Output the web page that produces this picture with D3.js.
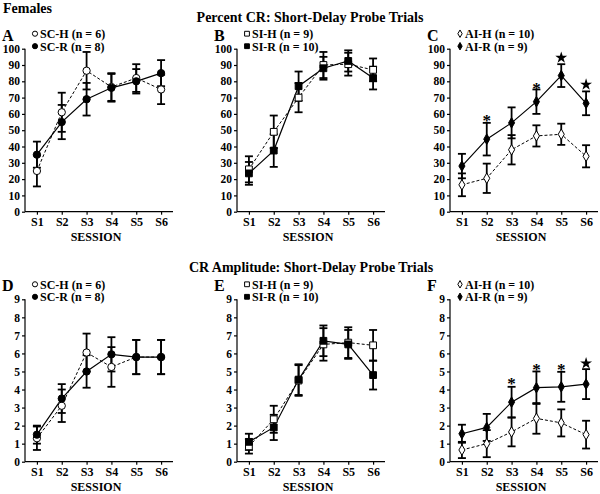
<!DOCTYPE html>
<html><head><meta charset="utf-8">
<script src="https://cdn.jsdelivr.net/npm/d3@7"></script>
<style>
body{margin:0;background:#fff;}
svg{display:block;}
text{font-family:"Liberation Serif","Times New Roman",serif;font-weight:bold;fill:#000;}
</style></head><body>
<script>
const sessions = ["S1","S2","S3","S4","S5","S6"];
const pctTicks = [0,10,20,30,40,50,60,70,80,90,100];
const ampTicks = [0,1,2,3,4,5,6,7,8,9];

// Panel A: SC
const scH_pct = [25,61,86.5,76.5,82,75];
const scH_pct_err = [9.5,12,11.5,8.5,8.5,9];
const scR_pct = [35,55,69,76,80,85];
const scR_pct_err = [8,10.5,10,8.5,7.5,8];
// Panel B: SI
const siH_pct = [26,49,70,90,90.5,87];
const siH_pct_err = [8,10,9,8,7,7];
const siR_pct = [23.5,37.5,77,88,92.5,82];
const siR_pct_err = [7,10,9,7,6.5,7];
// Panel C: AI
const aiH_pct = [16.5,20.5,38,46.5,47.5,34];
const aiH_pct_err = [7,9,9,6.5,6.5,6.8];
const aiR_pct = [28,44.5,54.5,67.5,83.5,66.5];
const aiR_pct_err = [7.5,10,9.5,7.5,7,7.3];
// Panel D: SC amplitude
const scH_amp = [1.3,3.1,6.05,5.25,5.8,5.8];
const scH_amp_err = [0.65,0.9,1.05,1.1,0.95,0.95];
const scR_amp = [1.5,3.5,5.0,5.95,5.8,5.8];
const scR_amp_err = [0.5,0.8,0.9,0.95,0.95,0.95];
// Panel E: SI amplitude
const siH_amp = [0.85,2.35,4.5,6.5,6.6,6.45];
const siH_amp_err = [0.4,0.75,0.85,0.9,0.85,0.85];
const siR_amp = [1.1,1.9,4.55,6.7,6.5,4.8];
const siR_amp_err = [0.45,0.7,0.85,0.85,0.8,0.8];
// Panel F: AI amplitude
const aiH_amp = [0.65,1.0,1.65,2.4,2.15,1.5];
const aiH_amp_err = [0.45,0.75,0.8,0.85,0.75,0.77];
const aiR_amp = [1.55,1.9,3.3,4.1,4.15,4.3];
const aiR_amp_err = [0.5,0.75,0.85,0.9,0.83,0.83];

// significance marks
const starsC = [{s:"S2",v:58,sym:"*"},{s:"S4",v:78,sym:"*"},{s:"S5",v:94.5,sym:"star"},{s:"S6",v:78,sym:"star"}];
const starsF = [{s:"S3",v:4.55,sym:"*"},{s:"S4",v:5.3,sym:"*"},{s:"S5",v:5.3,sym:"*"},{s:"S6",v:5.45,sym:"star"}];

const W=600,H=494;
const svg=d3.select("body").append("svg").attr("width",W).attr("height",H);

svg.append("text").attr("x",3).attr("y",13).attr("font-size",14).text("Females");
svg.append("text").attr("x",310).attr("y",22).attr("text-anchor","middle").attr("font-size",14).text("Percent CR: Short-Delay Probe Trials");
svg.append("text").attr("x",311).attr("y",272).attr("text-anchor","middle").attr("font-size",14).text("CR Amplitude: Short-Delay Probe Trials");

const colX=[25,237,450], pw=148;
const rowY=[{top:48.7,bot:211.7},{top:299.3,bot:461.7}];

const panels=[
 {L:"A",col:0,row:0,dom:[0,100],ticks:pctTicks,shape:"circle",h:scH_pct,he:scH_pct_err,r:scR_pct,re:scR_pct_err,hl:"SC-H (n = 6)",rl:"SC-R (n = 8)",stars:[]},
 {L:"B",col:1,row:0,dom:[0,100],ticks:pctTicks,shape:"square",h:siH_pct,he:siH_pct_err,r:siR_pct,re:siR_pct_err,hl:"SI-H (n = 9)",rl:"SI-R (n = 10)",stars:[]},
 {L:"C",col:2,row:0,dom:[0,100],ticks:pctTicks,shape:"diamond",h:aiH_pct,he:aiH_pct_err,r:aiR_pct,re:aiR_pct_err,hl:"AI-H (n = 10)",rl:"AI-R (n = 9)",stars:starsC},
 {L:"D",col:0,row:1,dom:[0,9],ticks:ampTicks,shape:"circle",h:scH_amp,he:scH_amp_err,r:scR_amp,re:scR_amp_err,hl:"SC-H (n = 6)",rl:"SC-R (n = 8)",stars:[]},
 {L:"E",col:1,row:1,dom:[0,9],ticks:ampTicks,shape:"square",h:siH_amp,he:siH_amp_err,r:siR_amp,re:siR_amp_err,hl:"SI-H (n = 9)",rl:"SI-R (n = 10)",stars:[]},
 {L:"F",col:2,row:1,dom:[0,9],ticks:ampTicks,shape:"diamond",h:aiH_amp,he:aiH_amp_err,r:aiR_amp,re:aiR_amp_err,hl:"AI-H (n = 10)",rl:"AI-R (n = 9)",stars:starsF}
];

function marker(g,shape,x,y,filled,scale){
  scale=scale||1;
  let sym = shape==="circle"?d3.symbolCircle:shape==="square"?d3.symbolSquare:d3.symbolDiamond;
  let size = shape==="circle"?42:shape==="square"?46:32;
  g.append("path").attr("d",d3.symbol().type(sym).size(size*scale)())
   .attr("transform",`translate(${x},${y})`)
   .attr("fill",filled?"#000":"#fff").attr("stroke","#000").attr("stroke-width",1);
}

panels.forEach(p=>{
  const x0=colX[p.col], y0=rowY[p.row].top, y1=rowY[p.row].bot;
  const x=d3.scalePoint().domain(sessions).range([x0,x0+pw]).padding(0.48);
  const y=d3.scaleLinear().domain(p.dom).range([y1,y0]);
  const g=svg.append("g");
  // axes
  const ya=g.append("g").attr("transform",`translate(${x0},0)`)
    .call(d3.axisLeft(y).tickValues(p.ticks).tickSize(3).tickPadding(2).tickFormat(d3.format("d")));
  const xa=g.append("g").attr("transform",`translate(0,${y1})`)
    .call(d3.axisBottom(x).tickSize(3).tickPadding(3));
  [ya,xa].forEach(a=>{
    a.select(".domain").attr("stroke","#000").attr("stroke-width",1.2);
    a.selectAll(".tick line").attr("stroke","#000").attr("stroke-width",1.2);
    a.selectAll(".tick text").attr("font-family","Liberation Serif").attr("font-weight","bold").attr("font-size",11.5).attr("fill","#000");
  });
  xa.selectAll(".tick text").attr("font-size",12);
  ya.select(".domain").attr("d",`M0,${y1}V${y0}`);
  xa.select(".domain").attr("d",`M${x0},0H${x0+pw}`);
  g.append("text").attr("x",x0+pw/2-3).attr("y",y1+29).attr("text-anchor","middle").attr("font-size",12).text("SESSION");
  // panel letter
  g.append("text").attr("x",x0-23).attr("y",y0-8).attr("font-size",16).text(p.L);
  // error bars
  [[p.h,p.he],[p.r,p.re]].forEach(([v,e])=>{
    sessions.forEach((s,i)=>{
      const cx=x(s), a=y(v[i]-e[i]), b=y(v[i]+e[i]);
      g.append("line").attr("x1",cx).attr("x2",cx).attr("y1",a).attr("y2",b).attr("stroke","#000").attr("stroke-width",1.8);
      [a,b].forEach(yy=>g.append("line").attr("x1",cx-4).attr("x2",cx+4).attr("y1",yy).attr("y2",yy).attr("stroke","#000").attr("stroke-width",1.8));
    });
  });
  // lines
  const line=d3.line().x((d,i)=>x(sessions[i])).y(d=>y(d));
  g.append("path").datum(p.h).attr("d",line).attr("fill","none").attr("stroke","#000").attr("stroke-width",1).attr("stroke-dasharray","3,2");
  g.append("path").datum(p.r).attr("d",line).attr("fill","none").attr("stroke","#000").attr("stroke-width",1.2);
  // markers
  sessions.forEach((s,i)=>marker(g,p.shape,x(s),y(p.h[i]),false));
  sessions.forEach((s,i)=>marker(g,p.shape,x(s),y(p.r[i]),true));
  // stars
  p.stars.forEach(st=>{
    if(st.sym==="*"){
      g.append("text").attr("x",x(st.s)).attr("y",y(st.v)+9).attr("text-anchor","middle").attr("font-size",17).text("*");
    } else {
      g.append("path").attr("d",d3.symbol().type(d3.symbolStar).size(44)()).attr("transform",`translate(${x(st.s)},${y(st.v)})`).attr("fill","#000");
    }
  });
  // legend
  const lx=x0+10, ly=y0-15;
  marker(g,p.shape,lx,ly,false,0.5);
  g.append("text").attr("x",lx+5).attr("y",ly+4.5).attr("font-size",12).text(p.hl);
  marker(g,p.shape,lx,ly+12.5,true,0.5);
  g.append("text").attr("x",lx+5).attr("y",ly+17).attr("font-size",12).text(p.rl);
});
</script>
</body></html>
